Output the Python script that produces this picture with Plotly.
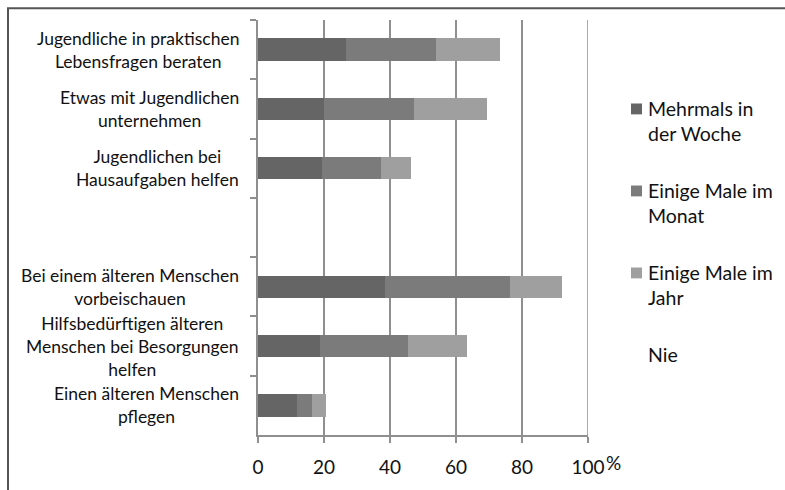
import plotly.graph_objects as go

categories = [
    "Jugendliche in praktischen<br>Lebensfragen beraten",
    "Etwas mit Jugendlichen<br>unternehmen",
    "Jugendlichen bei<br>Hausaufgaben helfen",
    " ",
    "Bei einem älteren Menschen<br>vorbeischauen",
    "Hilfsbedürftigen älteren<br>Menschen bei Besorgungen<br>helfen",
    "Einen älteren Menschen<br>pflegen",
]
series_names = ["Mehrmals in<br>der Woche", "Einige Male im<br>Monat", "Einige Male im<br>Jahr", "Nie"]
mehrmals_woche = [26.6, 20.0, 19.5, None, 38.5, 18.8, 11.7]
einige_monat = [27.4, 27.4, 17.7, None, 37.9, 26.8, 4.7]
einige_jahr = [19.3, 21.9, 9.1, None, 15.6, 17.6, 4.2]
nie = [26.7, 30.7, 53.7, None, 8.0, 36.8, 79.4]
x_ticks = [0, 20, 40, 60, 80, 100]

series_values = [mehrmals_woche, einige_monat, einige_jahr, nie]
colors = ["#656565", "#7b7b7b", "#9f9f9f", "rgba(0,0,0,0)"]
FONT = "Lato"
TXT = "#111111"
GRID = "#8f8f8f"

fig = go.Figure()
for name, vals, col in zip(series_names, series_values, colors):
    fig.add_trace(go.Bar(
        y=categories, x=vals, name=name, orientation="h",
        marker=dict(color=col, line=dict(width=0)),
    ))

W, H = 785, 490
L, R, T, B = 258, 197, 20, 50
pw, ph = W - L - R, H - T - B

def px_x(p):
    return (p - L) / pw

def px_y(p):
    return 1 - (p - T) / ph

annotations = []
for c in categories:
    if c.strip():
        annotations.append(dict(
            x=px_x(241), xref="paper", y=c, yref="y", text=c,
            xanchor="right", yanchor="middle", align="center", showarrow=False,
            font=dict(family=FONT, size=17.5, color=TXT),
        ))
annotations.append(dict(
    x=px_x(604), xref="paper", y=px_y(468), yref="paper", text="%",
    xanchor="left", yanchor="middle", showarrow=False,
    font=dict(family=FONT, size=19, color=TXT),
))

shapes = [dict(
    type="rect", xref="paper", yref="paper",
    x0=px_x(8), x1=px_x(800), y0=px_y(500), y1=px_y(8),
    line=dict(color="#555555", width=2), fillcolor="rgba(0,0,0,0)",
    layer="below",
)]
# gridline at the last tick (Plotly drops the grid line on the plot edge)
shapes.append(dict(
    type="line", xref="x", yref="paper", x0=x_ticks[-1], x1=x_ticks[-1], y0=0, y1=1,
    line=dict(color=GRID, width=1.5), layer="below",
))

# legend drawn manually (keeps the plot area from being pushed by the legend)
LINE_H = 25
for i, (name, col) in enumerate(zip(series_names, colors)):
    first = 110 + i * 83
    nlines = name.count("<br>") + 1
    center = first + (nlines - 1) * LINE_H / 2
    annotations.append(dict(
        x=px_x(646), xref="paper", y=px_y(center), yref="paper", text=name,
        xanchor="left", yanchor="middle", align="left", showarrow=False,
        font=dict(family=FONT, size=19.5, color=TXT),
    ))
    shapes.append(dict(
        type="rect", xref="paper", yref="paper",
        x0=px_x(631), x1=px_x(642), y0=px_y(first + 5.5), y1=px_y(first - 5.5),
        line=dict(width=0), fillcolor=col,
    ))

fig.update_layout(
    width=W, height=H,
    margin=dict(l=L, r=R, t=T, b=B, pad=0),
    paper_bgcolor="white", plot_bgcolor="white",
    barmode="stack", bargap=0.62,
    showlegend=False,
    xaxis=dict(
        range=[0, 100], tickvals=x_ticks, showgrid=True,
        gridcolor=GRID, gridwidth=1.5,
        showline=True, linecolor=GRID, linewidth=1.5,
        ticks="outside", ticklen=6, tickcolor=GRID, tickwidth=1.5,
        tickfont=dict(family=FONT, size=19, color=TXT),
        ticklabelstandoff=8, zeroline=False,
    ),
    yaxis=dict(
        type="category", categoryorder="array", categoryarray=categories,
        autorange="reversed", showticklabels=False, showgrid=False,
        showline=True, linecolor=GRID, linewidth=1.5,
        ticks="outside", ticklen=6, tickcolor=GRID, tickwidth=1.5,
        tickson="boundaries", zeroline=False,
    ),
    annotations=annotations,
    shapes=shapes,
)

fig.write_html("out.html")
